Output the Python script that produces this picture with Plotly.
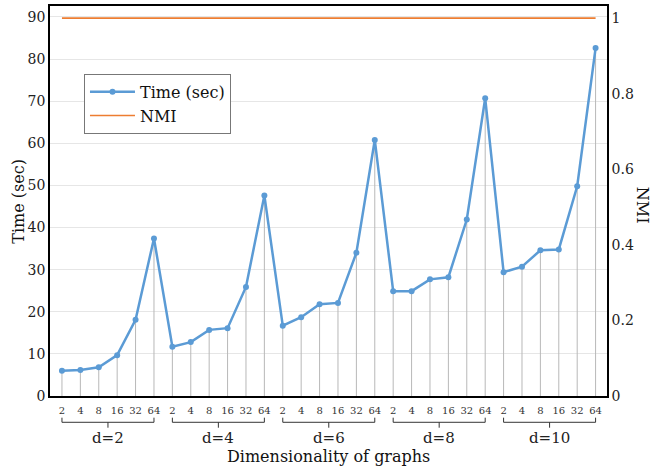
import plotly.graph_objects as go

groups = ["d=2", "d=4", "d=6", "d=8", "d=10"]
dims = ["2", "4", "8", "16", "32", "64"]
time_sec = [
    6.0, 6.2, 6.8, 9.7, 18.1, 37.4,
    11.7, 12.8, 15.7, 16.1, 25.9, 47.6,
    16.7, 18.7, 21.8, 22.1, 34.0, 60.8,
    24.9, 24.9, 27.7, 28.2, 41.9, 70.7,
    29.4, 30.7, 34.6, 34.8, 49.8, 82.6,
]
nmi = [1.0] * 30

FONT = "DejaVu Serif"
BLUE = "#5b9bd5"
ORANGE = "#ed7d31"

n = len(time_sec)
xs = list(range(n))
ticktext = [d for _ in groups for d in dims]

# drop lines from each point to the axis
dx, dy = [], []
for i, v in enumerate(time_sec):
    dx += [i, i, None]
    dy += [0, v, None]

fig = go.Figure()
fig.add_trace(go.Scatter(x=dx, y=dy, mode="lines", line=dict(color="#b8b8b8", width=1),
                         showlegend=False, hoverinfo="skip"))
fig.add_trace(go.Scatter(x=xs, y=time_sec, mode="lines+markers", name="Time (sec)",
                         line=dict(color=BLUE, width=2.5), marker=dict(size=6, color=BLUE)))
fig.add_trace(go.Scatter(x=xs, y=nmi, mode="lines", name="NMI", yaxis="y2",
                         line=dict(color=ORANGE, width=1.6)))

# group brackets and labels
g = len(dims)
for k, name in enumerate(groups):
    x0, x1 = k * g, k * g + g - 1
    xc = (x0 + x1) / 2
    fig.add_shape(type="line", xref="x", yref="paper", x0=x0, x1=x1, y0=-0.0674, y1=-0.0674,
                  line=dict(color="#333", width=1))
    fig.add_shape(type="line", xref="x", yref="paper", x0=x0, x1=x0, y0=-0.0674, y1=-0.0556,
                  line=dict(color="#333", width=1))
    fig.add_shape(type="line", xref="x", yref="paper", x0=x1, x1=x1, y0=-0.0674, y1=-0.0556,
                  line=dict(color="#333", width=1))
    fig.add_shape(type="line", xref="x", yref="paper", x0=xc, x1=xc, y0=-0.0674, y1=-0.0813,
                  line=dict(color="#333", width=1))
    fig.add_annotation(x=xc, y=-0.108, xref="x", yref="paper", text=name, showarrow=False,
                       font=dict(family=FONT, size=15, color="#222"), yanchor="middle")

fig.add_annotation(x=0.5, y=-0.155, xref="paper", yref="paper", text="Dimensionality of graphs",
                   showarrow=False, font=dict(family=FONT, size=16, color="#111"), yanchor="middle")
fig.add_annotation(x=-0.058, y=0.5, xref="paper", yref="paper", text="Time (sec)", textangle=-90,
                   xanchor="center", yanchor="middle",
                   showarrow=False, font=dict(family=FONT, size=16, color="#111"))
fig.add_annotation(x=1.063, y=0.49, xref="paper", yref="paper", text="NMI", textangle=90,
                   xanchor="center", yanchor="middle",
                   showarrow=False, font=dict(family=FONT, size=16, color="#111"))

fig.update_layout(
    width=652, height=468,
    margin=dict(l=50, r=45, t=6, b=72),
    plot_bgcolor="white", paper_bgcolor="white",
    font=dict(family=FONT, color="#222"),
    hovermode=False,
    xaxis=dict(range=[-0.65, 29.62], tickvals=xs, ticktext=ticktext, tickfont=dict(size=10, color="#333"),
               showgrid=False, zeroline=False, showline=True, linecolor="black", linewidth=1.6,
               mirror=True, ticks="", automargin=False, ticklabelstandoff=4),
    yaxis=dict(range=[0, 92.6], dtick=10, tickfont=dict(size=14, color="#222"), showgrid=True,
               gridcolor="#e6e6e6", gridwidth=1, zeroline=False, showline=True, linecolor="black",
               linewidth=1.6, mirror=True, ticks="", automargin=False),
    yaxis2=dict(range=[0, 1.032], overlaying="y", side="right", tickvals=[0, 0.2, 0.4, 0.6, 0.8, 1],
                tickfont=dict(size=14, color="#222"), showgrid=False, zeroline=False, showline=True,
                linecolor="black", linewidth=1.6, ticks="", automargin=False),
    legend=dict(x=0.061, y=0.826, xanchor="left", yanchor="top", bgcolor="white",
                bordercolor="#777", borderwidth=1, font=dict(family=FONT, size=16, color="#111"),
                tracegroupgap=4, itemwidth=45),
)

fig.write_html("out.html", config={"displayModeBar": False},
               post_script="document.body.style.margin='0';")
